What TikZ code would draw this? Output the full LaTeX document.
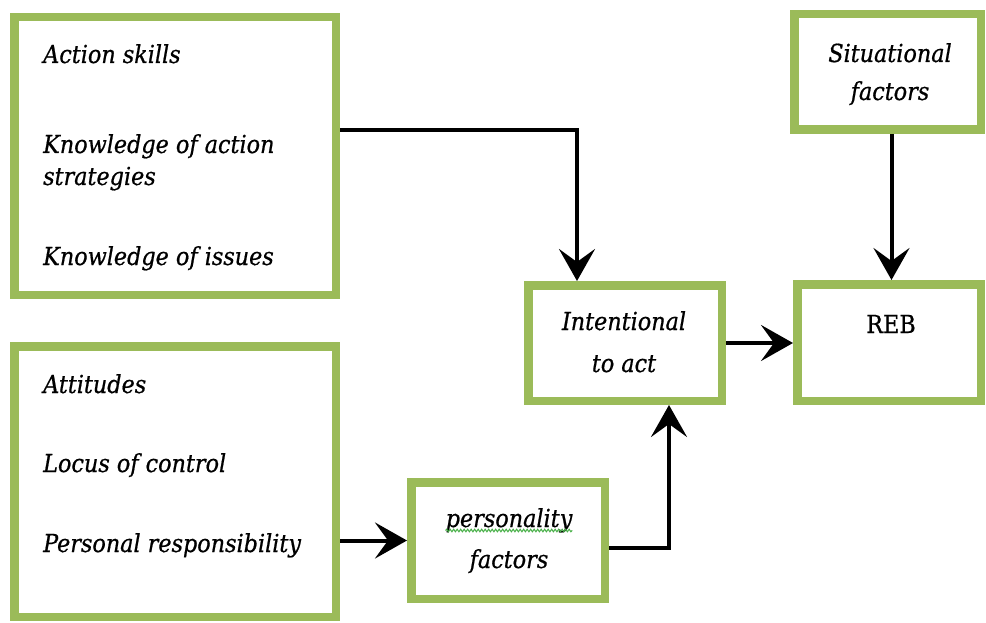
\documentclass[tikz,border=0pt]{standalone}
\usepackage{fontspec}
\setmainfont[FakeBold=0.7]{DejaVu Serif Condensed}
\usetikzlibrary{arrows.meta,decorations.pathmorphing,calc}
\definecolor{boxgreen}{RGB}{155,187,89}
\definecolor{wavegreen}{RGB}{70,175,70}
\begin{document}
\begin{tikzpicture}[x=1pt,y=-1pt,
  gbox/.style={draw=boxgreen,line width=8.5pt,fill=white,rectangle,inner sep=0pt},
  txt/.style={inner sep=0pt,font=\fontsize{24.8}{28}\selectfont\itshape},
  txtup/.style={inner sep=0pt,font=\fontsize{24.8}{28}\selectfont},
  arr/.style={line width=4pt,-{Stealth[length=32pt,width=36pt,inset=13pt]}}]
\useasboundingbox (0,0) rectangle (986,623);
\fill[white] (0,0) rectangle (986,623);
% boxes
\node[gbox,minimum width=321.5pt,minimum height=277.5pt] (A) at (175,156) {};
\node[gbox,minimum width=321.5pt,minimum height=270.5pt] (B) at (175,481.5) {};
\node[gbox,minimum width=193.5pt,minimum height=115.5pt] (I) at (625,343) {};
\node[gbox,minimum width=193.5pt,minimum height=116.5pt] (P) at (508,540.5) {};
\node[gbox,minimum width=183.5pt,minimum height=116.5pt] (R) at (889,342.5) {};
\node[gbox,minimum width=186.5pt,minimum height=115.5pt] (S) at (887.5,72) {};
% texts
\node[txt,anchor=base west] (a1) at (43,63) {Action skills};
\node[txt,anchor=base west] (a2) at (43,153) {Knowledge of action};
\node[txt,anchor=base west] (a3) at (43,185) {strategies};
\node[txt,anchor=base west] (a4) at (43,265) {Knowledge of issues};
\node[txt,anchor=base west] (b1) at (43,393) {Attitudes};
\node[txt,anchor=base west] (b2) at (43,472) {Locus of control};
\node[txt,anchor=base west] (b3) at (43,552) {Personal responsibility};
\node[txt,anchor=base] (i1) at (624,330) {Intentional};
\node[txt,anchor=base] (i2) at (624,372) {to act};
\node[txt,anchor=base] (p1) at (509,527) {personality};
\node[txt,anchor=base] (p2) at (509,568) {factors};
\node[txt,anchor=base] (s1) at (890,62) {Situational};
\node[txt,anchor=base] (s2) at (890,100) {factors};
\node[txtup,anchor=base] (r1) at (891,333) {REB};
\draw[wavegreen,line width=1pt,decorate,decoration={snake,amplitude=1.3pt,segment length=3.5pt}]
  ([yshift=-3.5pt]p1.base west) -- ([yshift=-3.5pt]p1.base east);
% connectors
\draw[arr] ([yshift=26pt]A.east) -| ([xshift=-48pt]I.north);
\draw[arr] (I.east) -- (I.east -| R.west);
\draw[arr] ([xshift=4pt]S.south) -- ([xshift=4pt]S.south |- R.north);
\draw[arr] (B.east |- P.west) -- (P.west);
\draw[arr] ([yshift=-7pt]P.east) -| ([xshift=44pt]I.south);
\end{tikzpicture}
\end{document}
